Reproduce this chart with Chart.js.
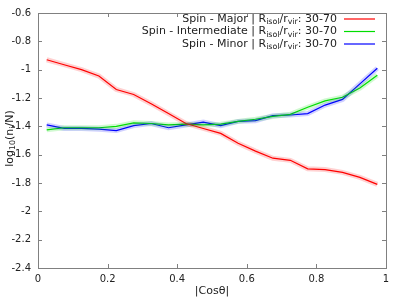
<!DOCTYPE html>
<html>
<head>
<meta charset="utf-8">
<script src="https://cdn.jsdelivr.net/npm/chart.js@4.4.1/dist/chart.umd.min.js"></script>
<style>
  html, body { margin: 0; padding: 0; background: #fff; }
  #wrap { width: 399px; height: 299px; }
</style>
</head>
<body>
<div id="wrap"><canvas id="chart" width="399" height="299"></canvas></div>
<script>
// bin centres of |cos theta|
const cosTheta = [0.025, 0.075, 0.125, 0.175, 0.225, 0.275, 0.325, 0.375, 0.425, 0.475,
                  0.525, 0.575, 0.625, 0.675, 0.725, 0.775, 0.825, 0.875, 0.925, 0.975];

const spinMajor = [-0.93, -0.965, -1.0, -1.045, -1.14, -1.175, -1.24, -1.31, -1.38, -1.415,
                   -1.45, -1.52, -1.575, -1.625, -1.64, -1.70, -1.705, -1.725, -1.76, -1.81];
const spinIntermediate = [-1.425, -1.41, -1.41, -1.41, -1.40, -1.375, -1.38, -1.39, -1.385, -1.39,
                          -1.385, -1.365, -1.35, -1.33, -1.315, -1.265, -1.22, -1.195, -1.13, -1.04];
const spinMinor = [-1.39, -1.415, -1.415, -1.42, -1.43, -1.395, -1.38, -1.41, -1.39, -1.37,
                   -1.395, -1.365, -1.36, -1.325, -1.32, -1.31, -1.25, -1.21, -1.10, -0.99];

const xTickValues = [0, 0.2, 0.4, 0.6, 0.8, 1];
const yTickValues = [-2.4, -2.2, -2, -1.8, -1.6, -1.4, -1.2, -1, -0.8, -0.6];

const seriesNames = ['Spin - Major', 'Spin - Intermediate', 'Spin - Minor'];
const seriesColors = ['#ff0000', '#00dd00', '#0000ff'];
const bandColors = ['rgba(255,0,0,0.18)', 'rgba(0,220,0,0.18)', 'rgba(0,0,255,0.18)'];
const seriesValues = [spinMajor, spinIntermediate, spinMinor];

Chart.defaults.font.family = 'DejaVu Sans';
Chart.defaults.font.size = 10;
Chart.defaults.color = '#222';

function pts(vals) {
  return vals.map((v, i) => ({ x: cosTheta[i], y: v }));
}

const datasets = [];
// pale wide bands behind the lines
seriesValues.forEach((vals, i) => {
  datasets.push({
    label: seriesNames[i] + ' band',
    data: pts(vals),
    borderColor: bandColors[i],
    borderWidth: 5,
    pointRadius: 0,
    tension: 0,
    fill: false
  });
});
seriesValues.forEach((vals, i) => {
  datasets.push({
    label: seriesNames[i],
    data: pts(vals),
    borderColor: seriesColors[i],
    borderWidth: 1.2,
    pointRadius: 0,
    tension: 0,
    fill: false
  });
});

// draw text made of normal and subscript parts, right aligned at xRight
function partsWidth(ctx, parts, size) {
  let w = 0;
  parts.forEach(p => {
    ctx.font = (p[1] ? size * 0.72 : size) + 'px "DejaVu Sans"';
    w += ctx.measureText(p[0]).width;
  });
  return w;
}
function drawParts(ctx, parts, x, y, size) {
  parts.forEach(p => {
    ctx.font = (p[1] ? size * 0.72 : size) + 'px "DejaVu Sans"';
    ctx.fillText(p[0], x, p[1] ? y + size * 0.3 : y);
    x += ctx.measureText(p[0]).width;
  });
}

const framePlugin = {
  id: 'frame',
  afterDraw(chart) {
    const ctx = chart.ctx;
    const a = chart.chartArea;
    const xs = chart.scales.x, ys = chart.scales.y;
    ctx.save();
    ctx.strokeStyle = '#808080';
    ctx.lineWidth = 1;
    ctx.strokeRect(Math.round(a.left) + 0.5, Math.round(a.top) + 0.5,
                   Math.round(a.right - a.left), Math.round(a.bottom - a.top));
    ctx.beginPath();
    const tl = 4;
    xTickValues.forEach(v => {
      const px = Math.round(xs.getPixelForValue(v)) + 0.5;
      ctx.moveTo(px, a.bottom); ctx.lineTo(px, a.bottom - tl);
      ctx.moveTo(px, a.top); ctx.lineTo(px, a.top + tl);
    });
    yTickValues.forEach(v => {
      const py = Math.round(ys.getPixelForValue(v)) + 0.5;
      ctx.moveTo(a.left, py); ctx.lineTo(a.left + tl, py);
      ctx.moveTo(a.right, py); ctx.lineTo(a.right - tl, py);
    });
    ctx.stroke();

    // axis titles
    ctx.fillStyle = '#222';
    ctx.textBaseline = 'middle';
    ctx.textAlign = 'center';
    ctx.font = '11px "DejaVu Sans"';
    ctx.fillText('|Cosθ|', (a.left + a.right) / 2, 291);

    const yParts = [['log', 0], ['10', 1], ['(n', 0], ['i', 1], ['/N)', 0]];
    ctx.save();
    ctx.translate(10, (a.top + a.bottom) / 2 - 2);
    ctx.rotate(-Math.PI / 2);
    ctx.textAlign = 'left';
    const yw = partsWidth(ctx, yParts, 11);
    drawParts(ctx, yParts, -yw / 2, 0, 11);
    ctx.restore();

    // legend
    ctx.textAlign = 'left';
    const rowsY = [19, 31.5, 44];
    seriesNames.forEach((name, i) => {
      const parts = [[name + ' | R', 0], ['isol', 1], ['/r', 0], ['vir', 1], [': 30-70', 0]];
      const w = partsWidth(ctx, parts, 11);
      drawParts(ctx, parts, 337 - w, rowsY[i], 11);
      ctx.strokeStyle = seriesColors[i];
      ctx.lineWidth = 1.2;
      ctx.beginPath();
      ctx.moveTo(344, rowsY[i]); ctx.lineTo(375, rowsY[i]);
      ctx.stroke();
    });
    ctx.restore();
  }
};

new Chart(document.getElementById('chart'), {
  type: 'line',
  data: { datasets: datasets },
  options: {
    responsive: false,
    animation: false,
    layout: { padding: { left: 0, top: 9, right: 13, bottom: 0 } },
    plugins: { legend: { display: false }, tooltip: { enabled: false } },
    scales: {
      x: {
        type: 'linear',
        min: 0, max: 1,
        grid: { display: false, drawTicks: false },
        border: { display: false },
        afterFit: s => { s.height = 31; },
        afterBuildTicks: s => { s.ticks = xTickValues.map(v => ({ value: v })); },
        ticks: { padding: 5, callback: v => String(+v.toFixed(1)), maxRotation: 0 }
      },
      y: {
        type: 'linear',
        min: -2.4, max: -0.6,
        grid: { display: false, drawTicks: false },
        border: { display: false },
        afterFit: s => { s.width = 38; },
        afterBuildTicks: s => { s.ticks = yTickValues.map(v => ({ value: v })); },
        ticks: { padding: 7, callback: v => String(+v.toFixed(1)) }
      }
    }
  },
  plugins: [framePlugin]
});
</script>
</body>
</html>
